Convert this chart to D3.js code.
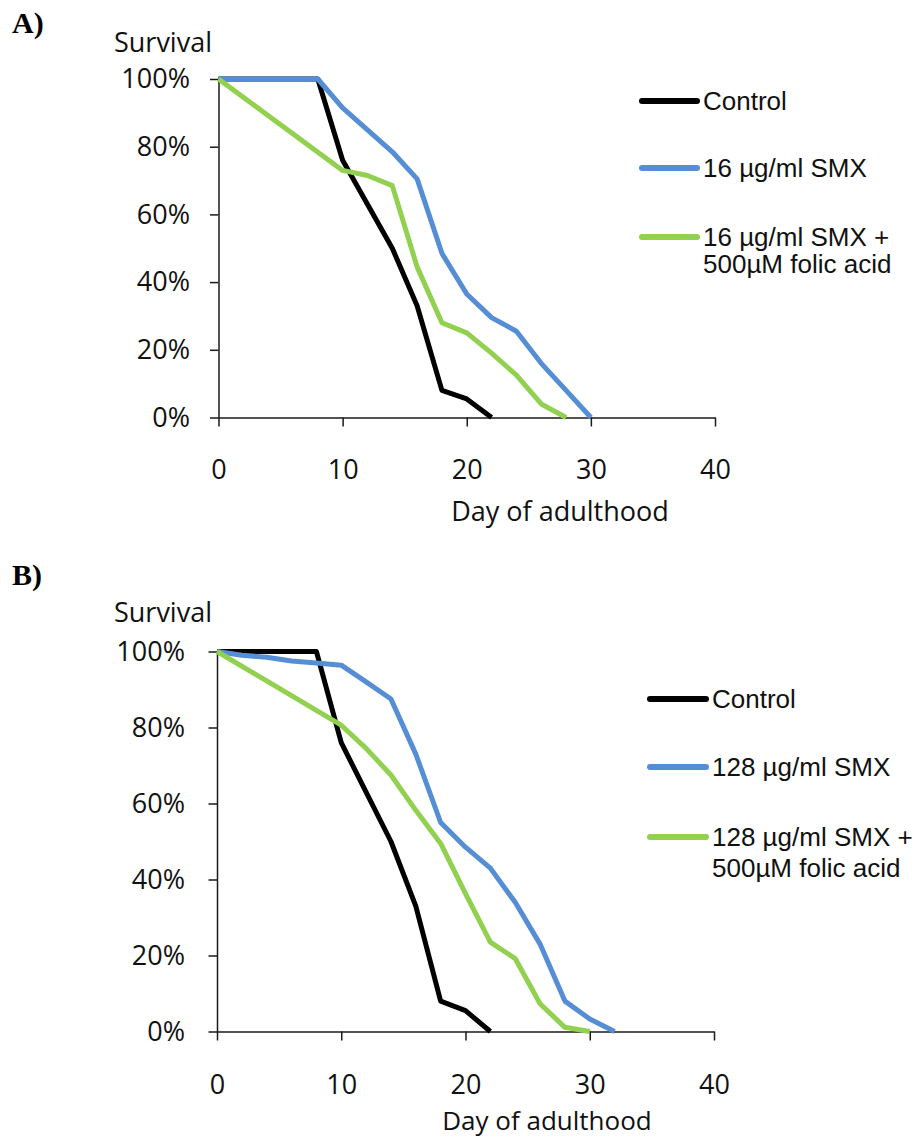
<!DOCTYPE html>
<html>
<head>
<meta charset="utf-8">
<script src="https://cdn.jsdelivr.net/npm/d3@7"></script>
<style>
  body { margin: 0; background: #fff; }
  svg { display: block; }
</style>
</head>
<body>
<div id="chart"></div>
<script>
// ---- data ----
const dayTicks = [0, 10, 20, 30, 40];
const survivalTicks = [0, 20, 40, 60, 80, 100];

// control is the same cohort in both panels
const controlDays = [0, 2, 4, 6, 8, 10, 12, 14, 16, 18, 20, 22];
const controlSurvival = [100, 100, 100, 100, 100, 76, 63, 50, 33, 8, 5.5, 0];

// panel A
const smx16Days = [0, 2, 4, 6, 8, 10, 12, 14, 16, 18, 20, 22, 24, 26, 28, 30];
const smx16Survival = [100, 100, 100, 100, 100, 91.5, 85, 78.5, 70.5, 48.5, 36.5, 29.5, 25.5, 16, 8, 0];
const smx16FolicDays = [0, 10, 12, 14, 16, 18, 20, 22, 24, 26, 28];
const smx16FolicSurvival = [100, 73, 71.5, 68.5, 44.5, 28, 25, 19, 12.5, 4, 0];

// panel B
const smx128Days = [0, 2, 4, 6, 8, 10, 12, 14, 16, 18, 20, 22, 24, 26, 28, 30, 32];
const smx128Survival = [100, 99, 98.5, 97.5, 97, 96.4, 92, 87.5, 73, 55, 48.5, 43, 34, 23, 8, 3.3, 0];
const smx128FolicDays = [0, 10, 12, 14, 16, 18, 20, 22, 24, 26, 28, 30];
const smx128FolicSurvival = [100, 80.6, 74.5, 67.5, 58.2, 49.5, 36.3, 23.5, 19.2, 7.3, 1.1, 0];

const legendA = ["Control", "16 µg/ml SMX", ["16 µg/ml SMX +", "500µM folic acid"]];
const legendB = ["Control", "128 µg/ml SMX", ["128 µg/ml SMX +", "500µM folic acid"]];
const colors = ["#000000", "#558ED5", "#92D050"];

const zip = (xs, ys) => xs.map((x, i) => [x, ys[i]]);

const panels = [
  {
    tag: "A)", tagY: 33,
    x0: 218.5, x1: 715, yTop: 79, yBot: 417.5,
    survY: 52, ytickPad: 20, xtickPad: 33, titleY: 521, titleX: 560, titleSize: 27,
    legX: 642, legTextX: 703, legY: [101, 168, 237], legGap: 27,
    legend: legendA,
    series: [zip(controlDays, controlSurvival), zip(smx16Days, smx16Survival), zip(smx16FolicDays, smx16FolicSurvival)]
  },
  {
    tag: "B)", tagY: 585,
    x0: 217, x1: 714, yTop: 651.5, yBot: 1031.5,
    survY: 622, ytickPad: 23.5, xtickPad: 34, titleY: 1130, titleX: 547, titleSize: 26,
    legX: 650, legTextX: 712, legY: [699, 767, 837], legGap: 31,
    legend: legendB,
    series: [zip(controlDays, controlSurvival), zip(smx128Days, smx128Survival), zip(smx128FolicDays, smx128FolicSurvival)]
  }
];

const svg = d3.select("#chart").append("svg")
  .attr("width", 916)
  .attr("height", 1138);

const labelFont = "'Open Sans', sans-serif";

panels.forEach(function(p) {
  const x = d3.scaleLinear().domain([0, 40]).range([p.x0, p.x1]);
  const y = d3.scaleLinear().domain([0, 100]).range([p.yBot, p.yTop]);

  // panel tag
  svg.append("text")
    .attr("x", 12).attr("y", p.tagY)
    .style("font-family", "'Liberation Serif', serif")
    .style("font-weight", "bold")
    .style("font-size", "30px")
    .text(p.tag);

  // y axis
  const gy = svg.append("g")
    .attr("transform", "translate(" + p.x0 + ",0)")
    .call(d3.axisLeft(y).tickValues(survivalTicks).tickFormat(d => d + "%")
      .tickSize(8.5).tickSizeOuter(0).tickPadding(p.ytickPad));

  // x axis
  const gx = svg.append("g")
    .attr("transform", "translate(0," + p.yBot + ")")
    .call(d3.axisBottom(x).tickValues(dayTicks)
      .tickSize(9).tickSizeOuter(0).tickPadding(p.xtickPad));

  [gx, gy].forEach(function(g) {
    g.selectAll("path, line").attr("stroke", "#1a1a1a").attr("stroke-width", 1.5);
    g.selectAll("text")
      .attr("fill", "#111")
      .style("font-family", labelFont)
      .style("font-size", "27px");
  });

  svg.append("text")
    .attr("x", 212).attr("y", p.survY)
    .attr("text-anchor", "end")
    .style("font-family", labelFont)
    .style("font-size", "27px")
    .attr("fill", "#111")
    .text("Survival");

  svg.append("text")
    .attr("x", p.titleX).attr("y", p.titleY)
    .attr("text-anchor", "middle")
    .style("font-family", labelFont)
    .style("font-size", p.titleSize + "px")
    .attr("fill", "#111")
    .text("Day of adulthood");

  // survival lines
  const line = d3.line().x(d => x(d[0])).y(d => y(d[1]));
  p.series.forEach(function(s, i) {
    svg.append("path")
      .datum(s)
      .attr("d", line)
      .attr("fill", "none")
      .attr("stroke", colors[i])
      .attr("stroke-width", 5)
      .attr("stroke-linejoin", "round");
  });

  // legend
  p.legend.forEach(function(lab, i) {
    const ly = p.legY[i];
    svg.append("line")
      .attr("x1", p.legX).attr("x2", p.legTextX - 6)
      .attr("y1", ly).attr("y2", ly)
      .attr("stroke", colors[i])
      .attr("stroke-width", 6)
      .attr("stroke-linecap", "round");
    const lines = Array.isArray(lab) ? lab : [lab];
    const t = svg.append("text")
      .attr("x", p.legTextX).attr("y", ly + 9.3)
      .style("font-family", "'Liberation Sans', Arial, sans-serif")
      .style("font-size", "26px")
      .attr("fill", "#111");
    lines.forEach(function(str, j) {
      t.append("tspan")
        .attr("x", p.legTextX)
        .attr("y", ly + 9.3 + j * p.legGap)
        .text(str);
    });
  });
});
</script>
</body>
</html>
